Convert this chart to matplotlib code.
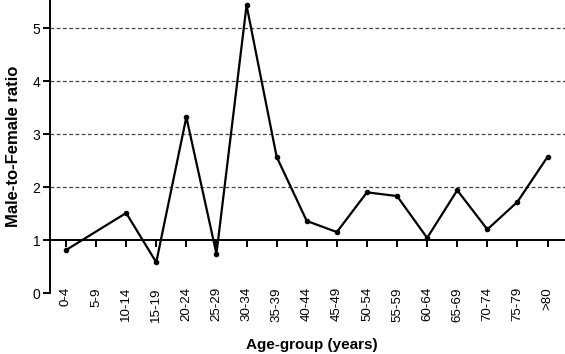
import numpy as np
import matplotlib
matplotlib.use("Agg")
from matplotlib import pyplot as plt

plt.rcParams['font.family'] = ['Liberation Sans', 'DejaVu Sans']

age_groups = ["0-4", "5-9", "10-14", "15-19", "20-24", "25-29", "30-34", "35-39",
              "40-44", "45-49", "50-54", "55-59", "60-64", "65-69", "70-74",
              "75-79", ">80"]
# 5-9 has no value, line goes straight from 0-4 to 10-14
ratio = [0.81, np.nan, 1.51, 0.58, 3.32, 0.74, 5.43, 2.57, 1.36, 1.15, 1.90,
         1.83, 1.04, 1.94, 1.20, 1.72, 2.57]
grid_levels = [2, 3, 4, 5]

x = np.arange(len(age_groups))
y = np.array(ratio)
ok = ~np.isnan(y)

fig = plt.figure(figsize=(5.65, 3.54), dpi=100)
ax = fig.add_axes([0.0885, 0.1723, 0.9115, 0.8277])

for g in grid_levels:
    ax.axhline(g, color='#444444', lw=0.9, linestyle=(0, (3, 2)), zorder=1)

ax.plot(x[ok], y[ok], color='black', lw=1.6, marker='o', markersize=3, zorder=3)

ax.set_xlim(-0.53, 16.58)
ax.set_ylim(0, 5.53)

ax.spines['top'].set_visible(False)
ax.spines['right'].set_visible(False)
ax.spines['bottom'].set_position(('data', 1))
ax.spines['bottom'].set_linewidth(1.4)
ax.spines['left'].set_linewidth(1.4)
ax.spines['left'].set_bounds(0, 5.53)

ax.set_xticks(x)
ax.set_xticklabels(age_groups, rotation=90, fontsize=9.6)
ax.tick_params(axis='x', direction='out', length=5, width=1.4, pad=29)
ax.set_yticks([0, 1, 2, 3, 4, 5])
ax.tick_params(axis='y', direction='out', length=5, width=1.4, labelsize=10, pad=2)

ax.set_ylabel("Male-to-Female ratio", fontsize=12, fontweight='bold', labelpad=8)
fig.text(0.551, 0.006, "Age-group (years)", fontsize=11, fontweight='bold', ha='center', va='bottom')

fig.savefig("out.png", dpi=100)
